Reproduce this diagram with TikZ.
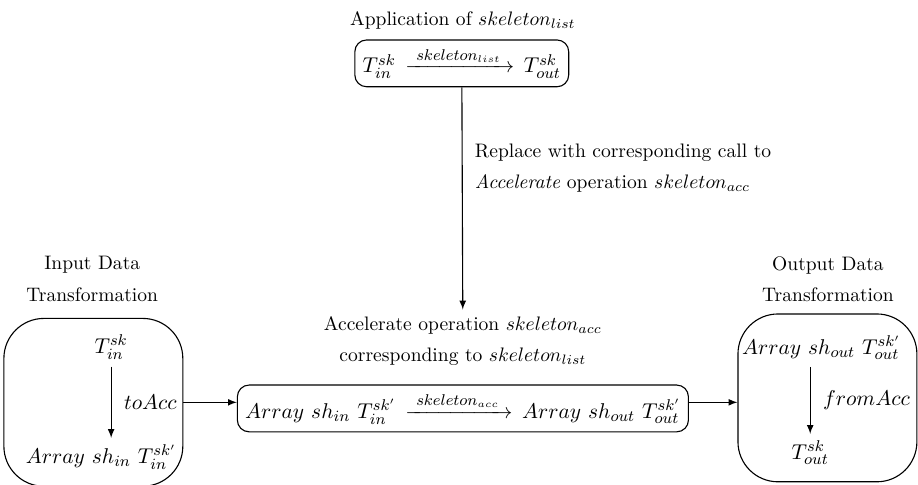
\documentclass[tikz,border=0pt]{standalone}
\usepackage{amsmath}
\begin{document}
\begin{tikzpicture}[line width=.2mm,>=latex]
      \tikzset{mathtxt/.style={font=\fontsize{10.8}{13}\selectfont}}
      \tikzset{stepbox/.style={draw,rounded corners=6pt,inner sep=4pt,mathtxt}}
      \tikzset{transbox/.style={draw,rounded corners=.72cm,minimum width=3.22cm,minimum height=3.02cm}}
      \useasboundingbox (0,0) rectangle (16.52,-8.71);

      \node[transbox] (L) at (1.68,-7.24) {};
      \node[transbox] (R) at (14.89,-7.16) {};

      \node (title) at (8.33,-0.36) {Application of $skeleton_{list}$};
      \node[stepbox] (top) at (8.31,-1.14) {$T_{in}^{sk}\, \xrightarrow{\hspace{3pt}skeleton_{list}\hspace{3pt}}\, T_{out}^{sk}$};

      \node[align=left,anchor=west] (rep) at (8.42,-3.02) {Replace with corresponding call to\\[4pt] \textit{Accelerate} operation $skeleton_{acc}$};
      \node[align=center] (acclbl) at (8.33,-6.14) {Accelerate operation $skeleton_{acc}$\\[4pt] corresponding to $skeleton_{list}$};
      \node[stepbox] (mid) at (8.33,-7.35) {$Array\ sh_{in}\ T_{in}^{sk'}\, \xrightarrow{\hspace{3pt}skeleton_{acc}\hspace{3pt}}\, Array\ sh_{out}\ T_{out}^{sk'}$};

      \node[align=center] (inlbl) at (1.66,-5.02) {Input Data\\[4pt] Transformation};
      \node[align=center] (outlbl) at (14.9,-5.02) {Output Data\\[4pt] Transformation};

      \node[mathtxt] (tin) at (2.0,-6.25) {$T_{in}^{sk}$};
      \node[mathtxt] (ain) at (1.82,-8.23) {$Array\ sh_{in}\ T_{in}^{sk'}$};
      \node[mathtxt] (aout) at (14.78,-6.26) {$Array\ sh_{out}\ T_{out}^{sk'}$};
      \node[mathtxt] (tout) at (14.58,-8.15) {$T_{out}^{sk}$};

      \draw[->] (top) -- (acclbl);
      \draw[->] (tin) -- (tin |- ain.north) node[midway,right=3pt,mathtxt] {$toAcc$};
      \draw[->] (tout |- aout.south) -- (tout) node[midway,right=3pt,mathtxt] {$fromAcc$};
      \draw[->] (L.east) -- (L.east -| mid.west);
      \draw[->] (mid.east |- L.east) -- (R.west |- L.east);
    \end{tikzpicture}
\end{document}
